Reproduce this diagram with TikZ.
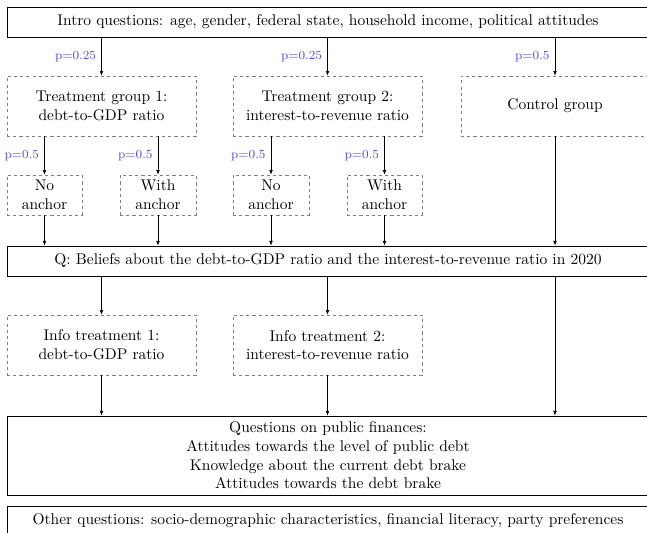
\documentclass[tikz,border=0pt]{standalone}
\usetikzlibrary{arrows.meta}
\newcommand{\pxu}{0.645pt}
\tikzset{
	mainbox/.style={draw, semithick, rectangle, align=center, inner sep=0pt, minimum height=30*\pxu},
	groupbox/.style={draw=gray, dash pattern=on 2pt off 2pt, rectangle, align=center, inner sep=0pt, minimum width=189*\pxu, minimum height=60*\pxu},
	anchorbox/.style={draw=gray, dash pattern=on 2pt off 2pt, rectangle, align=center, inner sep=0pt, minimum width=75*\pxu, minimum height=40*\pxu},
	prob/.style={text=blue!70, font=\footnotesize, pos=0.5, left},
	arr/.style={-{Latex[length=3pt,width=2.4pt]}}
}
\begin{document}
\begin{tikzpicture}[x=\pxu, y=-\pxu]
\useasboundingbox (0,0) rectangle (647,533);
\node[mainbox, minimum width=642*\pxu] (intro) at (328,22) {Intro questions: age, gender, federal state, household income, political attitudes};

\node[groupbox] (tg1) at (101.5,106) {Treatment group 1:\\debt-to-GDP ratio};
\node[groupbox] (tg2) at (327.5,106) {Treatment group 2:\\interest-to-revenue ratio};
\node[groupbox, minimum width=188*\pxu] (ctrl) at (555,106) {Control group};

\node[anchorbox] (na1) at (44.5,195) {No\\anchor};
\node[anchorbox, minimum width=76*\pxu] (wa1) at (158,195) {With\\anchor};
\node[anchorbox, minimum width=76*\pxu] (na2) at (271,195) {No\\anchor};
\node[anchorbox] (wa2) at (384.5,195) {With\\anchor};

\node[mainbox, minimum width=642*\pxu] (beliefs) at (328,261) {Q: Beliefs about the debt-to-GDP ratio and the interest-to-revenue ratio in 2020};

\node[groupbox] (info1) at (101.5,345) {Info treatment 1:\\debt-to-GDP ratio};
\node[groupbox] (info2) at (327.5,345) {Info treatment 2:\\interest-to-revenue ratio};

\node[mainbox, minimum width=642*\pxu, minimum height=79*\pxu] (pubfin) at (328,455.5) {Questions on public finances:\\Attitudes towards the level of public debt\\Knowledge about the current debt brake\\Attitudes towards the debt brake};
\node[mainbox, minimum width=642*\pxu] (other) at (328,521) {Other questions: socio-demographic characteristics, financial literacy, party preferences};

\draw[arr] (intro.south -| tg1) -- (tg1) node[prob] {p=0.25};
\draw[arr] (intro.south -| tg2) -- (tg2) node[prob] {p=0.25};
\draw[arr] (intro.south -| ctrl) -- (ctrl) node[prob] {p=0.5};

\draw[arr] (tg1.south -| na1) -- (na1) node[prob] {p=0.5};
\draw[arr] (tg1.south -| wa1) -- (wa1) node[prob] {p=0.5};
\draw[arr] (tg2.south -| na2) -- (na2) node[prob] {p=0.5};
\draw[arr] (tg2.south -| wa2) -- (wa2) node[prob] {p=0.5};

\foreach \n in {na1,wa1,na2,wa2}
{
	\draw[arr] (\n) -- (beliefs.north -| \n);
}
\draw[arr] (ctrl) -- (beliefs.north -| ctrl);

\draw[arr] (beliefs.south -| info1) -- (info1);
\draw[arr] (beliefs.south -| info2) -- (info2);
\draw[arr] (info1) -- (pubfin.north -| info1);
\draw[arr] (info2) -- (pubfin.north -| info2);
\draw[arr] (beliefs.south -| ctrl) -- (pubfin.north -| ctrl);
\end{tikzpicture}
\end{document}
